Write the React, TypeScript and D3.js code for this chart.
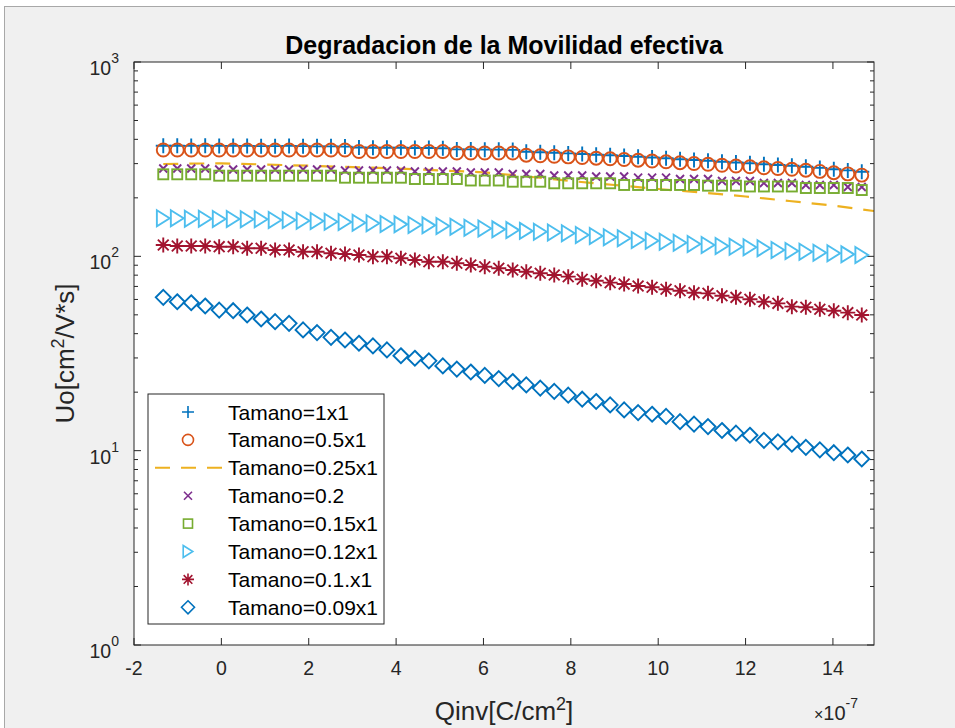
import React from 'react';
import * as d3 from 'd3';

const qinv = [-1.33,-1.01,-0.69,-0.37,-0.05,0.27,0.59,0.91,1.23,1.55,1.87,2.19,2.51,2.83,3.15,3.47,3.79,4.11,4.43,4.75,5.07,5.39,5.71,6.03,6.35,6.67,6.98,7.30,7.62,7.94,8.26,8.58,8.90,9.22,9.54,9.86,10.18,10.50,10.82,11.14,11.46,11.78,12.10,12.42,12.74,13.06,13.38,13.70,14.02,14.34,14.66];

const mu1x1 = [371,371,370,371,370,370,370,369,369,370,369,368,368,367,363,362,362,362,361,361,360,355,355,354,354,353,345.4,343.0,341.0,338.6,336.2,333.4,331.1,328.3,325.6,322.5,319.5,316.1,313.1,310.1,306.9,304.0,301.1,297.9,295.1,292.3,289.2,285.1,280.8,276.8,272.6];
const mu05x1 = [352.5,352.5,352.5,352.5,352.5,352.5,352.5,352.5,352.5,352.5,352.5,352.5,352.5,352.5,346.2,346.2,346.2,346.2,346.2,346.2,346.2,340.1,340.1,340.1,340.1,340.1,331.5,329.1,327.2,324.9,322.5,319.9,317.6,315.0,312.4,309.4,306.5,303.3,300.4,297.6,294.4,291.6,288.9,285.8,283.1,280.4,277.5,273.5,269.4,265.6,261.6];
const qinvDash = [-1.33,0,2,4,6,7,8,9,10,11,12,13,14,14.94];
const mu025x1 = [298.6,301.1,292.6,283.1,270.6,257.5,244.1,232.9,222.1,213.1,203.2,192.6,182.6,171.1];
const mu02 = [283.1,283.1,283.1,283.1,279.8,279.8,279.8,279.8,279.8,279.8,279.8,279.8,279.8,276.5,276.5,276.5,276.5,276.5,273.3,273.3,273.3,273.3,270.1,270.1,270.1,265.3,265.3,265.3,260.6,260.6,260.6,257.5,257.5,257.5,253.9,253.9,253.9,250.0,250.0,250.0,244.1,244.1,244.1,238.4,238.4,238.4,232.9,232.9,232.9,227.4,227.4];
const mu015x1 = [264.3,264.3,264.3,264.3,260.0,260.0,260.0,260.0,260.0,260.0,260.0,260.0,260.0,253.9,253.9,253.9,253.9,253.9,250.0,250.0,250.0,250.0,245.6,245.6,245.6,242.1,242.1,242.1,237.6,237.6,237.6,237.6,237.6,232.9,232.9,232.9,232.9,232.9,232.9,231.0,231.0,231.0,228.8,228.8,228.8,228.8,224.7,224.7,224.7,224.7,219.4];
const mu012x1 = [156.9,156.9,156.2,156.2,155.7,155.7,155.1,155.1,153.8,153.8,152.5,152.0,150.7,150.2,148.9,147.9,146.7,146.1,144.9,144.4,143.2,141.9,140.4,139.1,137.7,136.5,135.2,133.9,132.6,131.4,128.8,127.2,125.3,123.8,121.3,120.3,118.9,117.5,115.7,114.4,113.0,112.1,111.3,110.0,107.8,106.5,105.6,104.4,103.7,102.4,101.6];
const mu01x1 = [114.4,113.0,113.0,113.0,112.1,112.1,110.0,110.0,107.8,107.8,105.6,105.6,103.7,102.8,101.6,99.6,99.6,97.7,95.7,93.8,93.8,92.1,90.2,88.4,86.8,85.1,83.3,81.8,80.2,78.6,76.2,74.9,73.2,72.0,70.4,69.3,67.7,66.5,65.0,64.5,62.7,61.5,60.1,58.4,57.3,55.1,54.7,53.4,52.5,51.3,49.9];
const mu009x1 = [61.5,58.4,57.7,55.5,52.9,52.5,49.9,47.6,46.1,45.2,41.8,40.5,38.3,37.1,35.7,34.6,33.0,30.8,29.9,29.0,27.3,26.3,25.4,24.4,23.5,22.7,21.8,21.0,20.2,19.3,18.4,17.9,17.2,16.2,15.7,15.4,15.0,14.1,13.7,13.3,12.7,12.3,12.0,11.3,11.1,10.8,10.4,10.1,9.76,9.50,9.06];

const legendLabels = ['Tamano=1x1','Tamano=0.5x1','Tamano=0.25x1','Tamano=0.2','Tamano=0.15x1','Tamano=0.12x1','Tamano=0.1.x1','Tamano=0.09x1'];
const xTicks = [-2,0,2,4,6,8,10,12,14];
const yDecades = [0,1,2,3];

type Series = { label: string; x: number[]; y: number[]; marker: string | null; color: string; size: number; lsize: number };
const series: Series[] = [
  { label: legendLabels[0], x: qinv, y: mu1x1, marker: 'plus', color: '#0072BD', size: 15, lsize: 12 },
  { label: legendLabels[1], x: qinv, y: mu05x1, marker: 'circle', color: '#D95319', size: 13, lsize: 11 },
  { label: legendLabels[2], x: qinvDash, y: mu025x1, marker: null, color: '#EDB120', size: 0, lsize: 0 },
  { label: legendLabels[3], x: qinv, y: mu02, marker: 'x', color: '#7E2F8E', size: 8, lsize: 8 },
  { label: legendLabels[4], x: qinv, y: mu015x1, marker: 'square', color: '#77AC30', size: 10, lsize: 9 },
  { label: legendLabels[5], x: qinv, y: mu012x1, marker: 'tri', color: '#4DBEEE', size: 16, lsize: 12 },
  { label: legendLabels[6], x: qinv, y: mu01x1, marker: 'star', color: '#A2142F', size: 15, lsize: 12 },
  { label: legendLabels[7], x: qinv, y: mu009x1, marker: 'diamond', color: '#0072BD', size: 15, lsize: 13 },
];

const L = 134, R = 874, T = 62, B = 645;
const AX = '#262626';
const FONT = "'Liberation Sans', Arial, Helvetica, sans-serif";

function Marker({ type, cx, cy, s, color, sw }: { type: string; cx: number; cy: number; s: number; color: string; sw: number }) {
  const h = s / 2;
  const common = { fill: 'none', stroke: color, strokeWidth: sw };
  switch (type) {
    case 'plus':
      return <path d={`M${cx - h},${cy}H${cx + h}M${cx},${cy - h}V${cy + h}`} {...common} />;
    case 'circle':
      return <circle cx={cx} cy={cy} r={h} {...common} />;
    case 'x':
      return <path d={`M${cx - h},${cy - h}L${cx + h},${cy + h}M${cx - h},${cy + h}L${cx + h},${cy - h}`} {...common} />;
    case 'square':
      return <rect x={cx - h} y={cy - h} width={s} height={s} {...common} />;
    case 'tri':
      return <path d={`M${cx - h * 0.8},${cy - h}L${cx + h * 0.8},${cy}L${cx - h * 0.8},${cy + h}Z`} {...common} />;
    case 'star': {
      const d = h * 0.72;
      return <path d={`M${cx - h},${cy}H${cx + h}M${cx},${cy - h}V${cy + h}M${cx - d},${cy - d}L${cx + d},${cy + d}M${cx - d},${cy + d}L${cx + d},${cy - d}`} {...common} />;
    }
    case 'diamond':
      return <path d={`M${cx},${cy - h}L${cx + h},${cy}L${cx},${cy + h}L${cx - h},${cy}Z`} {...common} />;
    default:
      return null;
  }
}

export default function App() {
  const x = d3.scaleLinear().domain([-2, 14.94]).range([L, R]);
  const y = d3.scaleLog().domain([1, 1000]).range([B, T]);
  const line = d3.line<[number, number]>().x(d => x(d[0])).y(d => y(d[1]));

  const minorTicks: number[] = [];
  for (const e of [0, 1, 2]) for (let m = 2; m <= 9; m++) minorTicks.push(m * Math.pow(10, e));

  const legX = 148, legY = 394, legW = 236, legH = 230;
  const rowY0 = 412, rowDy = 27.9;

  return (
    <svg width={955} height={728} style={{ position: 'absolute', left: 0, top: 0 }} fontFamily={FONT}>
      <rect x={0} y={0} width={955} height={728} fill="#ffffff" />
      <rect x={4} y={6} width={951} height={722} fill="#f0f0f0" />
      <line x1={4} x2={955} y1={6.5} y2={6.5} stroke="#a8a8a8" strokeWidth={1} />
      <line x1={4.5} x2={4.5} y1={6} y2={728} stroke="#a8a8a8" strokeWidth={1} />

      <defs>
        <clipPath id="plotclip">
          <rect x={L} y={T} width={R - L} height={B - T} />
        </clipPath>
      </defs>
      <rect x={L} y={T} width={R - L} height={B - T} fill="#ffffff" />

      {/* ticks */}
      {xTicks.map(t => (
        <g key={'xt' + t}>
          <line x1={x(t)} x2={x(t)} y1={B} y2={B - 7} stroke={AX} strokeWidth={1} />
          <line x1={x(t)} x2={x(t)} y1={T} y2={T + 7} stroke={AX} strokeWidth={1} />
          <text x={x(t)} y={B + 30} textAnchor="middle" fontSize={19.5} fill={AX}>{t}</text>
        </g>
      ))}
      {yDecades.map(e => (
        <g key={'yd' + e}>
          <line x1={L} x2={L + 7} y1={y(Math.pow(10, e))} y2={y(Math.pow(10, e))} stroke={AX} strokeWidth={1} />
          <line x1={R} x2={R - 7} y1={y(Math.pow(10, e))} y2={y(Math.pow(10, e))} stroke={AX} strokeWidth={1} />
          <text x={119} y={y(Math.pow(10, e)) + 13} textAnchor="end" fontSize={19.5} fill={AX}>
            10<tspan fontSize={14} dy={-12}>{e}</tspan>
          </text>
        </g>
      ))}
      {minorTicks.map(v => (
        <g key={'ym' + v}>
          <line x1={L} x2={L + 4} y1={y(v)} y2={y(v)} stroke={AX} strokeWidth={1} />
          <line x1={R} x2={R - 4} y1={y(v)} y2={y(v)} stroke={AX} strokeWidth={1} />
        </g>
      ))}

      {/* data */}
      <g clipPath="url(#plotclip)">
        {series.map((s, si) =>
          s.marker === null ? (
            <path key={'s' + si} d={line(s.x.map((v, i) => [v, s.y[i]] as [number, number])) || ''} fill="none" stroke={s.color} strokeWidth={2.2} strokeDasharray="15 11" />
          ) : (
            <g key={'s' + si}>
              {s.x.map((v, i) => (
                <Marker key={i} type={s.marker as string} cx={x(v)} cy={y(s.y[i])} s={s.size} color={s.color} sw={1.9} />
              ))}
            </g>
          )
        )}
      </g>

      {/* frame */}
      <rect x={L} y={T} width={R - L} height={B - T} fill="none" stroke={AX} strokeWidth={1} />

      {/* legend */}
      <rect x={legX} y={legY} width={legW} height={legH} fill="#ffffff" stroke={AX} strokeWidth={1} />
      {series.map((s, i) => {
        const cy = rowY0 + i * rowDy;
        return (
          <g key={'lg' + i}>
            {s.marker === null ? (
              <line x1={155} x2={222} y1={cy} y2={cy} stroke={s.color} strokeWidth={2} strokeDasharray="15 11" />
            ) : (
              <Marker type={s.marker} cx={188} cy={cy} s={s.lsize} color={s.color} sw={1.6} />
            )}
            <text x={228} y={cy} dominantBaseline="central" fontSize={21} fill="#000000">{s.label}</text>
          </g>
        );
      })}

      {/* labels */}
      <text x={(L + R) / 2} y={54} textAnchor="middle" fontSize={25} fontWeight="bold" fill="#000000">Degradacion de la Movilidad efectiva</text>
      <text x={(L + R) / 2} y={720} textAnchor="middle" fontSize={26} fill={AX}>
        Qinv[C/cm<tspan fontSize={18} dy={-10}>2</tspan><tspan dy={10}>]</tspan>
      </text>
      <text transform={`translate(74,${(T + B) / 2}) rotate(-90)`} textAnchor="middle" fontSize={26} fill={AX}>
        Uo[cm<tspan fontSize={18} dy={-10}>2</tspan><tspan dy={10}>/V*s]</tspan>
      </text>
      <text x={814} y={720} fontSize={20} fill={AX}>
        <tspan fontSize={16}>×</tspan><tspan>10</tspan><tspan fontSize={14} dy={-12}>-7</tspan>
      </text>
    </svg>
  );
}
